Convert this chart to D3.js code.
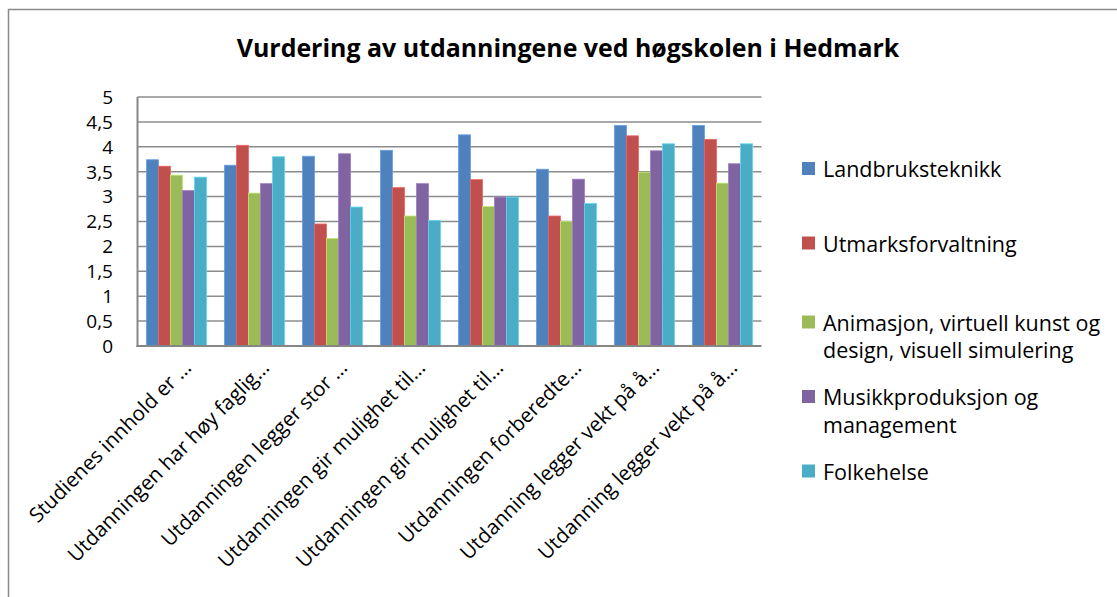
<!DOCTYPE html>
<html><head><meta charset="utf-8">
<script src="https://cdn.jsdelivr.net/npm/d3@7"></script>
<style>body{margin:0;background:#fff}svg{display:block}text{font-family:"Open Sans",sans-serif;fill:#000}</style>
</head><body>
<script>
const title = "Vurdering av utdanningene ved høgskolen i Hedmark";
const categories = [
  "Studienes innhold er …",
  "Utdanningen har høy faglig…",
  "Utdanningen legger stor …",
  "Utdanningen gir mulighet til…",
  "Utdanningen gir mulighet til…",
  "Utdanningen forberedte…",
  "Utdanning legger vekt på å…",
  "Utdanning legger vekt på å…"
];
const seriesNames = ["Landbruksteknikk","Utmarksforvaltning","Animasjon, virtuell kunst og design, visuell simulering","Musikkproduksjon og management","Folkehelse"];
const legendLines = [["Landbruksteknikk"],["Utmarksforvaltning"],["Animasjon, virtuell kunst og","design, visuell simulering"],["Musikkproduksjon og","management"],["Folkehelse"]];
const colors = ["#4F81BD","#C0504D","#9BBB59","#8064A2","#4BACC6"];
const landbruk   = [3.74,3.63,3.81,3.93,4.24,3.55,4.43,4.43];
const utmark     = [3.61,4.03,2.45,3.18,3.34,2.61,4.22,4.15];
const animasjon  = [3.43,3.07,2.16,2.61,2.80,2.50,3.49,3.27];
const musikk     = [3.12,3.26,3.86,3.26,2.99,3.35,3.92,3.66];
const folkehelse = [3.39,3.80,2.79,2.52,2.99,2.86,4.06,4.06];
const seriesValues = [landbruk, utmark, animasjon, musikk, folkehelse];
const yTicks = [0,0.5,1,1.5,2,2.5,3,3.5,4,4.5,5];

(function(){
const W = 1117, H = 597;
const svg = d3.select("body").append("svg").attr("width", W).attr("height", H);

svg.append("rect").attr("x", 8.5).attr("y", 9.5).attr("width", 1300).attr("height", 800)
  .attr("fill", "none").attr("stroke", "#8a8a8a").attr("stroke-width", 1.5);

const pL = 137.5, pR = 761.5, pT = 97, pB = 346;
const x0 = d3.scaleBand().domain(d3.range(categories.length)).range([pL, pR]).paddingInner(0.23).paddingOuter(0.115);
const x1 = d3.scaleBand().domain(d3.range(seriesNames.length)).range([0, x0.bandwidth()]);
const y = d3.scaleLinear().domain([0, 5]).range([pB, pT]);

svg.append("g").selectAll("line").data(yTicks.filter(d => d > 0)).join("line")
  .attr("x1", pL).attr("x2", pR).attr("y1", d => y(d)).attr("y2", d => y(d))
  .attr("stroke", "#8c8c8c").attr("stroke-width", 1.5);

const groups = svg.append("g").selectAll("g").data(categories).join("g")
  .attr("transform", (d, i) => `translate(${x0(i)},0)`);
groups.selectAll("rect").data((d, i) => seriesValues.map((s, k) => ({k, v: s[i]}))).join("rect")
  .attr("x", d => x1(d.k)).attr("width", x1.bandwidth())
  .attr("y", d => y(d.v)).attr("height", d => pB - y(d.v))
  .attr("fill", d => colors[d.k])
  .attr("stroke", d => d3.color(colors[d.k]).brighter(0.6)).attr("stroke-width", 0.8);

svg.append("line").attr("x1", pL).attr("x2", pL).attr("y1", pT).attr("y2", pB + 1)
  .attr("stroke", "#868686").attr("stroke-width", 2);
svg.append("line").attr("x1", pL - 1).attr("x2", pR).attr("y1", pB).attr("y2", pB)
  .attr("stroke", "#868686").attr("stroke-width", 2);

svg.append("g").selectAll("text").data(yTicks).join("text")
  .attr("x", 113).attr("y", d => y(d)).attr("dy", "0.36em")
  .attr("text-anchor", "end").attr("font-size", 19)
  .text(d => String(d).replace(".", ","));

svg.append("g").selectAll("text").data(categories).join("text")
  .attr("text-anchor", "end").attr("font-size", 20.5)
  .attr("transform", (d, i) => `translate(${x0(i) + x0.bandwidth() / 2 + 16},369) rotate(-45)`)
  .text(d => d);

const t = svg.append("text").attr("x", 568).attr("y", 57).attr("text-anchor", "middle")
  .attr("font-weight", "bold").attr("font-size", 20).text(title);
const tw = t.node().getComputedTextLength();
t.attr("font-size", 20 * 663 / tw);

const legendY = [177, 251.5, 330.5, 405, 479.5];
const lg = svg.append("g").selectAll("g").data(seriesNames).join("g");
lg.append("rect").attr("x", 802).attr("y", (d, i) => legendY[i] - 15).attr("width", 13).attr("height", 13)
  .attr("fill", (d, i) => colors[i]);
lg.each(function(d, i) {
  const g = d3.select(this);
  legendLines[i].forEach((ln, j) => {
    g.append("text").attr("x", 823).attr("y", legendY[i] + j * 27.5).attr("font-size", 21.5).text(ln);
  });
});
})();
</script>
</body></html>
